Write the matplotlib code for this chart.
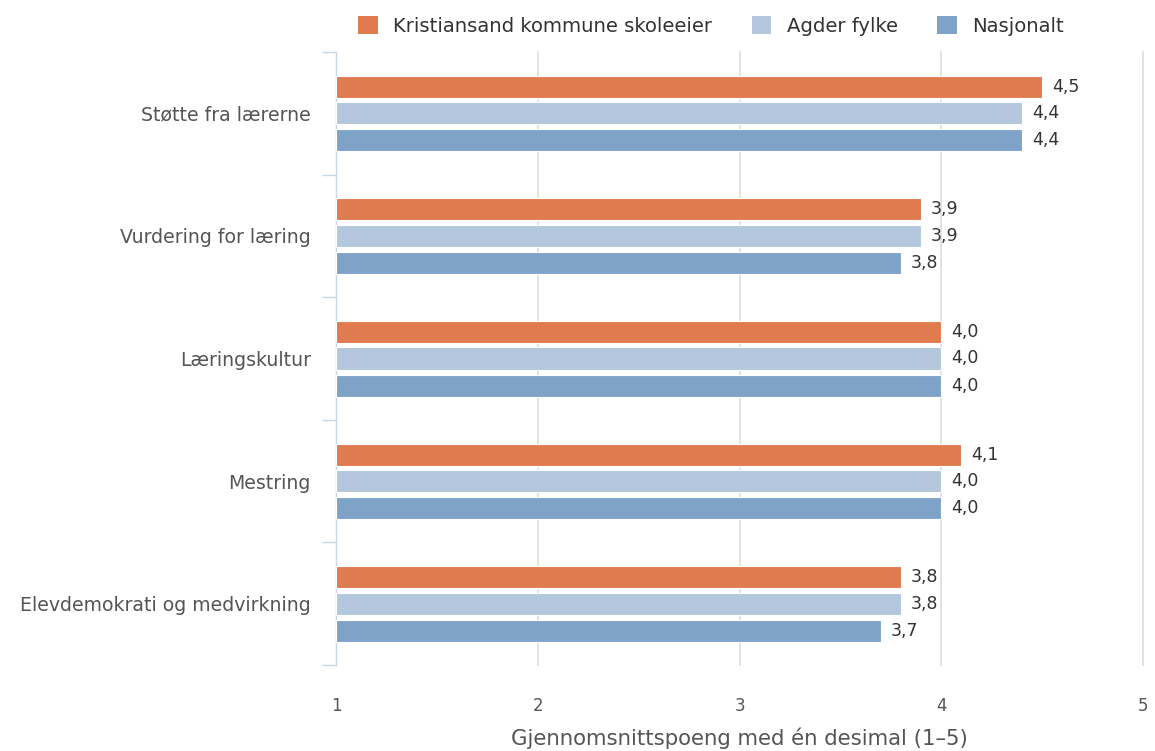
import matplotlib
matplotlib.use("Agg")
import matplotlib.pyplot as plt
from matplotlib.patches import Patch
import numpy as np

categories = ["Støtte fra lærerne", "Vurdering for læring", "Læringskultur",
              "Mestring", "Elevdemokrati og medvirkning"]
series_names = ["Kristiansand kommune skoleeier", "Agder fylke", "Nasjonalt"]
kristiansand = [4.5, 3.9, 4.0, 4.1, 3.8]
agder = [4.4, 3.9, 4.0, 4.0, 3.8]
nasjonalt = [4.4, 3.8, 4.0, 4.0, 3.7]
x_ticks = [1, 2, 3, 4, 5]

colors = ["#E07B4F", "#B3C8DD", "#7FA3C8"]
series = [kristiansand, agder, nasjonalt]

fig = plt.figure(figsize=(11.55, 7.51), dpi=100)
ax = fig.add_axes([336/1155, 1-665/751, (1143-336)/1155, (665-52)/751])

y = np.arange(len(categories))
offsets = [-0.216, 0.0, 0.221]
h = 0.18
for vals, col, off in zip(series, colors, offsets):
    ax.barh(y + off, np.array(vals) - 1, left=1, height=h, color=col,
            edgecolor="white", linewidth=0.8, zorder=3)
    for yi, v in zip(y, vals):
        ax.text(v + 0.05, yi + off, f"{v:.1f}".replace(".", ","),
                va="center", ha="left", fontsize=12.5, color="#333333", zorder=4)

ax.set_xlim(1, 5)
ax.set_ylim(len(categories) - 0.5, -0.5)
ax.set_xticks(x_ticks)
ax.set_xticklabels([str(t) for t in x_ticks], fontsize=12, color="#555555")
ax.tick_params(axis="x", length=0, pad=23)
ax.set_yticks(y)
ax.set_yticklabels(categories, fontsize=13.6, color="#555555")
ax.tick_params(axis="y", length=0, pad=18)
ax.set_yticks(np.arange(-0.5, len(categories), 1.0), minor=True)
ax.tick_params(axis="y", which="minor", length=10, color="#C8D6E6", width=1)
for xv in x_ticks[1:]:
    ax.axvline(xv, color="#DDDDDD", linewidth=1.2, zorder=0, clip_on=False)
for s in ["top", "right", "bottom"]:
    ax.spines[s].set_visible(False)
ax.spines["left"].set_color("#C8D6E6")
ax.spines["left"].set_linewidth(1)
ax.set_xlabel("Gjennomsnittspoeng med én desimal (1–5)", fontsize=15.3,
              color="#555555", labelpad=9)

handles = [Patch(facecolor=c, label=n) for c, n in zip(colors, series_names)]
fig.legend(handles=handles, loc="center", bbox_to_anchor=(711/1155, 1-26/751),
           ncol=3, frameon=False, fontsize=14.1, handlelength=1.0, handleheight=1.0,
           columnspacing=2.0, handletextpad=0.8, labelcolor="#333333")

fig.savefig("out.png", dpi=100)
